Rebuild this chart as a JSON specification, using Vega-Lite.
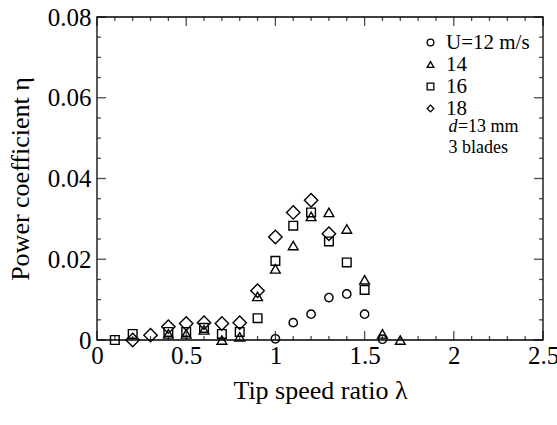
{
  "$schema": "https://vega.github.io/schema/vega-lite/v6.json",
  "width": 446,
  "height": 323,
  "autosize": "none",
  "padding": {"left": 97, "top": 17, "right": 14, "bottom": 85},
  "background": "white",
  "config": {
    "aria": false,
    "font": "Liberation Serif",
    "view": {"stroke": null},
    "axis": {
      "labelFont": "Liberation Serif", "titleFont": "Liberation Serif",
      "labelFontSize": 25, "titleFontSize": 26, "titleFontWeight": "normal",
      "grid": false, "labelColor": "#000000", "titleColor": "#000000"
    }
  },
  "datasets": {
    "pts": [
      {"U": "12", "lambda": 1.0, "eta": 0.0003},
      {"U": "12", "lambda": 1.1, "eta": 0.0043},
      {"U": "12", "lambda": 1.2, "eta": 0.0064},
      {"U": "12", "lambda": 1.3, "eta": 0.0105},
      {"U": "12", "lambda": 1.4, "eta": 0.0114},
      {"U": "12", "lambda": 1.5, "eta": 0.0064},
      {"U": "12", "lambda": 1.6, "eta": 0.0002},
      {"U": "14", "lambda": 0.4, "eta": 0.0015},
      {"U": "14", "lambda": 0.5, "eta": 0.0015},
      {"U": "14", "lambda": 0.6, "eta": 0.0025},
      {"U": "14", "lambda": 0.7, "eta": 0.0},
      {"U": "14", "lambda": 0.8, "eta": 0.0008},
      {"U": "14", "lambda": 0.9, "eta": 0.0108},
      {"U": "14", "lambda": 1.0, "eta": 0.0176},
      {"U": "14", "lambda": 1.1, "eta": 0.0234},
      {"U": "14", "lambda": 1.2, "eta": 0.0306},
      {"U": "14", "lambda": 1.3, "eta": 0.0316},
      {"U": "14", "lambda": 1.4, "eta": 0.0275},
      {"U": "14", "lambda": 1.5, "eta": 0.0149},
      {"U": "14", "lambda": 1.6, "eta": 0.0015},
      {"U": "14", "lambda": 1.7, "eta": 0.0},
      {"U": "16", "lambda": 0.1, "eta": 0.0},
      {"U": "16", "lambda": 0.2, "eta": 0.0015},
      {"U": "16", "lambda": 0.4, "eta": 0.002},
      {"U": "16", "lambda": 0.5, "eta": 0.002},
      {"U": "16", "lambda": 0.6, "eta": 0.003},
      {"U": "16", "lambda": 0.7, "eta": 0.0015},
      {"U": "16", "lambda": 0.8, "eta": 0.002},
      {"U": "16", "lambda": 0.9, "eta": 0.0054},
      {"U": "16", "lambda": 1.0, "eta": 0.0196},
      {"U": "16", "lambda": 1.1, "eta": 0.0283},
      {"U": "16", "lambda": 1.2, "eta": 0.0316},
      {"U": "16", "lambda": 1.3, "eta": 0.0244},
      {"U": "16", "lambda": 1.4, "eta": 0.0192},
      {"U": "16", "lambda": 1.5, "eta": 0.0124},
      {"U": "18", "lambda": 0.2, "eta": 0.0},
      {"U": "18", "lambda": 0.3, "eta": 0.0012},
      {"U": "18", "lambda": 0.4, "eta": 0.0033},
      {"U": "18", "lambda": 0.5, "eta": 0.0041},
      {"U": "18", "lambda": 0.6, "eta": 0.0043},
      {"U": "18", "lambda": 0.7, "eta": 0.0041},
      {"U": "18", "lambda": 0.8, "eta": 0.0043},
      {"U": "18", "lambda": 0.9, "eta": 0.0122},
      {"U": "18", "lambda": 1.0, "eta": 0.0255},
      {"U": "18", "lambda": 1.1, "eta": 0.0316},
      {"U": "18", "lambda": 1.2, "eta": 0.0346},
      {"U": "18", "lambda": 1.3, "eta": 0.0263}
    ],
    "xt": [
      {"v": 0, "m": 1}, {"v": 0.1, "m": 0}, {"v": 0.2, "m": 0}, {"v": 0.3, "m": 0}, {"v": 0.4, "m": 0},
      {"v": 0.5, "m": 1}, {"v": 0.6, "m": 0}, {"v": 0.7, "m": 0}, {"v": 0.8, "m": 0}, {"v": 0.9, "m": 0},
      {"v": 1.0, "m": 1}, {"v": 1.1, "m": 0}, {"v": 1.2, "m": 0}, {"v": 1.3, "m": 0}, {"v": 1.4, "m": 0},
      {"v": 1.5, "m": 1}, {"v": 1.6, "m": 0}, {"v": 1.7, "m": 0}, {"v": 1.8, "m": 0}, {"v": 1.9, "m": 0},
      {"v": 2.0, "m": 1}, {"v": 2.1, "m": 0}, {"v": 2.2, "m": 0}, {"v": 2.3, "m": 0}, {"v": 2.4, "m": 0},
      {"v": 2.5, "m": 1}
    ],
    "yt": [
      {"v": 0, "m": 1}, {"v": 0.005, "m": 0}, {"v": 0.01, "m": 0}, {"v": 0.015, "m": 0},
      {"v": 0.02, "m": 1}, {"v": 0.025, "m": 0}, {"v": 0.03, "m": 0}, {"v": 0.035, "m": 0},
      {"v": 0.04, "m": 1}, {"v": 0.045, "m": 0}, {"v": 0.05, "m": 0}, {"v": 0.055, "m": 0},
      {"v": 0.06, "m": 1}, {"v": 0.065, "m": 0}, {"v": 0.07, "m": 0}, {"v": 0.075, "m": 0},
      {"v": 0.08, "m": 1}
    ],
    "frame": [{"name": "plot frame"}],
    "notesItalic": [
      {"lambda": 1.97, "eta": 0.0528, "t": "d"}
    ],
    "notes": [
      {"lambda": 2.023, "eta": 0.0528, "t": "=13 mm"},
      {"lambda": 1.97, "eta": 0.0475, "t": "3 blades"}
    ]
  },
  "layer": [
    {
      "data": {"name": "pts"},
      "mark": {"type": "point", "filled": false, "color": "black", "strokeWidth": 1.4, "opacity": 1},
      "encoding": {
        "x": {
          "field": "lambda", "type": "quantitative",
          "scale": {"domain": [0, 2.5], "nice": false, "zero": false},
          "axis": {
            "orient": "bottom",
            "title": "Tip speed ratio  λ",
            "titlePadding": 9,
            "values": [0, 0.5, 1, 1.5, 2, 2.5],
            "format": "~g",
            "domain": false,
            "ticks": false,
            "labelPadding": 3,
            "labelFlush": false,
            "labelOverlap": false
          }
        },
        "y": {
          "field": "eta", "type": "quantitative",
          "scale": {"domain": [0, 0.08], "nice": false, "zero": false},
          "axis": {
            "orient": "left",
            "title": "Power coefficient  η",
            "titlePadding": 14,
            "values": [0, 0.02, 0.04, 0.06, 0.08],
            "labelExpr": "datum.value == 0 ? '0' : format(datum.value, '.2f')",
            "domain": false,
            "ticks": false,
            "labelPadding": 6,
            "labelFlush": false,
            "labelOverlap": false
          }
        },
        "shape": {
          "field": "U", "type": "ordinal",
          "scale": {"domain": ["12", "14", "16", "18"], "range": ["circle", "triangle-up", "square", "diamond"]},
          "legend": {
            "orient": "none", "legendX": 323, "legendY": 15,
            "title": null,
            "labelFont": "Liberation Serif", "labelFontSize": 21, "labelColor": "black",
            "symbolSize": 45, "symbolStrokeWidth": 1.3, "symbolStrokeColor": "black", "symbolFillColor": "white",
            "labelExpr": "datum.value == '12' ? 'U=12 m/s' : '\u00a0\u00a0\u00a0\u00a0\u00a0' + datum.value",
            "rowPadding": 0, "labelOffset": 5
          }
        },
        "size": {
          "condition": [
            {"test": "datum.U == '18'", "value": 180},
            {"test": "datum.U == '14'", "value": 95},
            {"test": "datum.U == '16'", "value": 75}
          ],
          "value": 70
        }
      }
    },
    {
      "data": {"name": "frame"},
      "mark": {"type": "rect", "fill": null, "stroke": "#000000", "strokeWidth": 1.3},
      "encoding": {
        "x": {"datum": 0, "type": "quantitative", "axis": null},
        "x2": {"datum": 2.5},
        "y": {"datum": 0, "type": "quantitative", "axis": null},
        "y2": {"datum": 0.08}
      }
    },
    {
      "data": {"name": "xt"},
      "transform": [{"filter": "datum.m == 1"}],
      "mark": {"type": "tick", "orient": "vertical", "color": "#000000", "thickness": 1.3, "size": 9, "yOffset": -4.5},
      "encoding": {
        "x": {"field": "v", "type": "quantitative", "axis": null},
        "y": {"datum": 0, "type": "quantitative", "axis": null}
      }
    },
    {
      "data": {"name": "xt"},
      "transform": [{"filter": "datum.m == 0"}],
      "mark": {"type": "tick", "orient": "vertical", "color": "#000000", "thickness": 1.3, "size": 4, "yOffset": -2},
      "encoding": {
        "x": {"field": "v", "type": "quantitative", "axis": null},
        "y": {"datum": 0, "type": "quantitative", "axis": null}
      }
    },
    {
      "data": {"name": "xt"},
      "transform": [{"filter": "datum.m == 1"}],
      "mark": {"type": "tick", "orient": "vertical", "color": "#000000", "thickness": 1.3, "size": 9, "yOffset": 4.5},
      "encoding": {
        "x": {"field": "v", "type": "quantitative", "axis": null},
        "y": {"datum": 0.08, "type": "quantitative", "axis": null}
      }
    },
    {
      "data": {"name": "xt"},
      "transform": [{"filter": "datum.m == 0"}],
      "mark": {"type": "tick", "orient": "vertical", "color": "#000000", "thickness": 1.3, "size": 4, "yOffset": 2},
      "encoding": {
        "x": {"field": "v", "type": "quantitative", "axis": null},
        "y": {"datum": 0.08, "type": "quantitative", "axis": null}
      }
    },
    {
      "data": {"name": "yt"},
      "transform": [{"filter": "datum.m == 1"}],
      "mark": {"type": "tick", "orient": "horizontal", "color": "#000000", "thickness": 1.3, "size": 9, "xOffset": 4.5},
      "encoding": {
        "y": {"field": "v", "type": "quantitative", "axis": null},
        "x": {"datum": 0, "type": "quantitative", "axis": null}
      }
    },
    {
      "data": {"name": "yt"},
      "transform": [{"filter": "datum.m == 0"}],
      "mark": {"type": "tick", "orient": "horizontal", "color": "#000000", "thickness": 1.3, "size": 4, "xOffset": 2},
      "encoding": {
        "y": {"field": "v", "type": "quantitative", "axis": null},
        "x": {"datum": 0, "type": "quantitative", "axis": null}
      }
    },
    {
      "data": {"name": "yt"},
      "transform": [{"filter": "datum.m == 1"}],
      "mark": {"type": "tick", "orient": "horizontal", "color": "#000000", "thickness": 1.3, "size": 9, "xOffset": -4.5},
      "encoding": {
        "y": {"field": "v", "type": "quantitative", "axis": null},
        "x": {"datum": 2.5, "type": "quantitative", "axis": null}
      }
    },
    {
      "data": {"name": "yt"},
      "transform": [{"filter": "datum.m == 0"}],
      "mark": {"type": "tick", "orient": "horizontal", "color": "#000000", "thickness": 1.3, "size": 4, "xOffset": -2},
      "encoding": {
        "y": {"field": "v", "type": "quantitative", "axis": null},
        "x": {"datum": 2.5, "type": "quantitative", "axis": null}
      }
    },
    {
      "data": {"name": "notesItalic"},
      "mark": {"type": "text", "align": "left", "baseline": "middle", "fontSize": 18, "font": "Liberation Serif", "fontStyle": "italic", "color": "black"},
      "encoding": {
        "x": {"field": "lambda", "type": "quantitative", "axis": null},
        "y": {"field": "eta", "type": "quantitative", "axis": null},
        "text": {"field": "t"}
      }
    },
    {
      "data": {"name": "notes"},
      "mark": {"type": "text", "align": "left", "baseline": "middle", "fontSize": 18, "font": "Liberation Serif", "color": "black"},
      "encoding": {
        "x": {"field": "lambda", "type": "quantitative", "axis": null},
        "y": {"field": "eta", "type": "quantitative", "axis": null},
        "text": {"field": "t"}
      }
    }
  ],
  "resolve": {"axis": {"x": "independent", "y": "independent"}}
}
